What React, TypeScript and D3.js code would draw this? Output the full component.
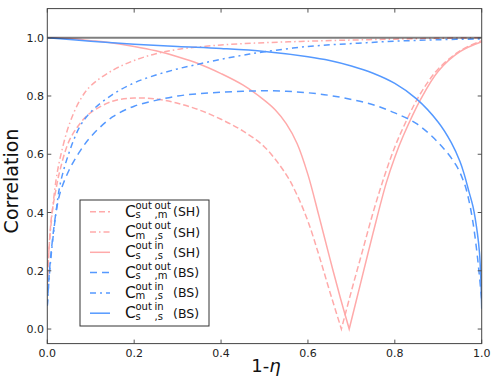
import React from "react";
import * as d3 from "d3";

// ---------- data ----------
const xTicks = [0, 0.2, 0.4, 0.6, 0.8, 1.0];
const yTicks = [0, 0.2, 0.4, 0.6, 0.8, 1.0];

const shDashX = [0, 0.005, 0.01, 0.02, 0.03, 0.05, 0.075, 0.1, 0.15, 0.2, 0.25, 0.3, 0.35, 0.4, 0.45, 0.5, 0.55, 0.575, 0.6, 0.625, 0.65, 0.677, 0.7, 0.725, 0.75, 0.775, 0.8, 0.825, 0.85, 0.875, 0.9, 0.95, 1.0];
const shDashY = [0.15, 0.3, 0.39, 0.48, 0.55, 0.645, 0.705, 0.743, 0.782, 0.793, 0.79, 0.775, 0.752, 0.72, 0.68, 0.625, 0.53, 0.46, 0.37, 0.255, 0.13, 0.0, 0.13, 0.265, 0.4, 0.52, 0.625, 0.71, 0.785, 0.845, 0.893, 0.955, 0.99];

const shDotX = [0, 0.005, 0.01, 0.02, 0.03, 0.05, 0.075, 0.1, 0.15, 0.2, 0.25, 0.3, 0.4, 0.5, 0.6, 0.7, 0.8, 0.9, 1.0];
const shDotY = [0.17, 0.3, 0.38, 0.51, 0.59, 0.7, 0.785, 0.835, 0.888, 0.922, 0.945, 0.96, 0.975, 0.983, 0.988, 0.992, 0.995, 0.998, 1.0];

const shSolidX = [0, 0.05, 0.1, 0.15, 0.2, 0.25, 0.3, 0.35, 0.4, 0.45, 0.5, 0.525, 0.55, 0.575, 0.6, 0.625, 0.65, 0.675, 0.695, 0.72, 0.75, 0.78, 0.8, 0.82, 0.86, 0.9, 0.95, 1.0];
const shSolidY = [1.0, 0.997, 0.99, 0.982, 0.97, 0.955, 0.935, 0.91, 0.877, 0.838, 0.785, 0.752, 0.705, 0.637, 0.53, 0.39, 0.245, 0.105, 0.0, 0.15, 0.33, 0.5, 0.59, 0.665, 0.79, 0.885, 0.952, 0.986];

const bsDashX = [0, 0.005, 0.01, 0.02, 0.03, 0.05, 0.075, 0.1, 0.15, 0.2, 0.25, 0.3, 0.35, 0.4, 0.45, 0.5, 0.55, 0.6, 0.65, 0.7, 0.75, 0.8, 0.85, 0.9, 0.94, 0.96, 0.97, 0.98, 0.99, 1.0];
const bsDashY = [0.08, 0.2, 0.28, 0.4, 0.47, 0.545, 0.61, 0.66, 0.728, 0.765, 0.785, 0.8, 0.808, 0.813, 0.816, 0.818, 0.816, 0.811, 0.802, 0.788, 0.77, 0.742, 0.705, 0.64, 0.565, 0.5, 0.445, 0.365, 0.25, 0.1];

const bsDotX = [0, 0.005, 0.01, 0.02, 0.03, 0.05, 0.075, 0.1, 0.15, 0.2, 0.25, 0.3, 0.35, 0.4, 0.45, 0.5, 0.6, 0.7, 0.8, 0.9, 1.0];
const bsDotY = [0.08, 0.19, 0.27, 0.4, 0.5, 0.605, 0.695, 0.745, 0.805, 0.845, 0.872, 0.893, 0.91, 0.926, 0.94, 0.952, 0.97, 0.98, 0.988, 0.993, 0.996];

const bsSolidX = [0, 0.1, 0.2, 0.3, 0.4, 0.5, 0.6, 0.65, 0.7, 0.75, 0.8, 0.85, 0.9, 0.93, 0.95, 0.96, 0.97, 0.98, 0.99, 0.995, 0.998, 1.0];
const bsSolidY = [1.0, 0.988, 0.978, 0.97, 0.963, 0.953, 0.935, 0.922, 0.903, 0.878, 0.843, 0.79, 0.71, 0.64, 0.575, 0.53, 0.475, 0.42, 0.33, 0.26, 0.17, 0.07];

const legendSub1 = ["s", "m", "s", "s", "m", "s"];
const legendSup2 = ["out", "out", "in", "out", "in", "in"];
const legendSub2 = [",m", ",s", ",s", ",m", ",s", ",s"];
const legendTag = ["(SH)", "(SH)", "(SH)", "(BS)", "(BS)", "(BS)"];

const PINK = "#ffaaaa";
const BLUE = "#5599ff";

const series = [
  { xs: shDashX, ys: shDashY, color: PINK, dash: "6,3", cusp: true },
  { xs: shDotX, ys: shDotY, color: PINK, dash: "6,3,1.5,3", cusp: false },
  { xs: shSolidX, ys: shSolidY, color: PINK, dash: null, cusp: true },
  { xs: bsDashX, ys: bsDashY, color: BLUE, dash: "7,5", cusp: false },
  { xs: bsDotX, ys: bsDotY, color: BLUE, dash: "6,4,2,4", cusp: false },
  { xs: bsSolidX, ys: bsSolidY, color: BLUE, dash: null, cusp: false },
];

const W = 498, H = 384;
const x = d3.scaleLinear().domain([0, 1]).range([47.3, 481.7]);
const y = d3.scaleLinear().domain([-0.05, 1.1]).range([343.6, 8.6]);

function makePath(xs: number[], ys: number[], cusp: boolean): string {
  const pts: [number, number][] = xs.map((v, i) => [v, ys[i]]);
  const line = d3
    .line<[number, number]>()
    .x((d) => x(d[0]))
    .y((d) => y(d[1]))
    .curve(d3.curveCatmullRom.alpha(0.5));
  if (!cusp) return line(pts) || "";
  let mi = 0;
  for (let i = 1; i < pts.length - 1; i++) if (pts[i][1] < pts[mi][1]) mi = i;
  const a = line(pts.slice(0, mi + 1)) || "";
  const b = (line(pts.slice(mi)) || "").replace(/^M/, "L");
  return a + b;
}

export default function App() {
  const x0 = x(0), x1 = x(1), y0 = y(-0.05), y1 = y(1.1);
  const font = "DejaVu Sans, sans-serif";
  const legX = 80, legY = 200, legW = 129, legH = 126;
  return (
    <svg width={W} height={H} style={{ position: "absolute", left: 0, top: 0, background: "#fff" }} fontFamily={font}>
      <rect x={0} y={0} width={W} height={H} fill="#fff" />
      <defs>
        <clipPath id="plotclip">
          <rect x={x0} y={y1} width={x1 - x0} height={y0 - y1} />
        </clipPath>
      </defs>
      <g clipPath="url(#plotclip)">
        {series.map((s, i) => (
          <path key={i} d={makePath(s.xs, s.ys, s.cusp)} fill="none" stroke={s.color} strokeWidth={1.5} strokeDasharray={s.dash || undefined} />
        ))}
        <line x1={x0} x2={x1} y1={y(1)} y2={y(1)} stroke="#000" strokeOpacity={0.5} strokeWidth={2} />
      </g>
      {/* ticks */}
      {xTicks.map((t) => (
        <g key={"xt" + t}>
          <line x1={x(t)} x2={x(t)} y1={y0} y2={y0 - 4} stroke="#555" />
          <line x1={x(t)} x2={x(t)} y1={y1} y2={y1 + 4} stroke="#555" />
          <text x={x(t)} y={357} fontSize={11} textAnchor="middle" fill="#222">{t.toFixed(1)}</text>
        </g>
      ))}
      {yTicks.map((t) => (
        <g key={"yt" + t}>
          <line x1={x0} x2={x0 + 4} y1={y(t)} y2={y(t)} stroke="#555" />
          <line x1={x1} x2={x1 - 4} y1={y(t)} y2={y(t)} stroke="#555" />
          <text x={44} y={y(t) + 4} fontSize={11} textAnchor="end" fill="#222">{t.toFixed(1)}</text>
        </g>
      ))}
      <rect x={x0} y={y1} width={x1 - x0} height={y0 - y1} fill="none" stroke="#444" strokeWidth={1} />
      {/* axis labels */}
      <text transform="translate(18,181) rotate(-90)" fontSize={19} textAnchor="middle" fill="#111">Correlation</text>
      <text x={266} y={372} fontSize={18} textAnchor="middle" fill="#111">
        1-<tspan fontStyle="italic">η</tspan>
      </text>
      {/* legend */}
      <rect x={legX} y={legY} width={legW} height={legH} fill="#fff" stroke="#333" strokeWidth={1} />
      {series.map((s, i) => {
        const yc = 211.7 + i * 20.3;
        return (
          <g key={"lg" + i}>
            <line x1={90} x2={110} y1={yc} y2={yc} stroke={s.color} strokeWidth={1.5} strokeDasharray={s.dash || undefined} />
            <text fill="#111">
              <tspan x={125} y={yc + 5} fontSize={15.5}>C</tspan>
              <tspan x={135.5} y={yc - 3} fontSize={10}>out</tspan>
              <tspan x={135.5} y={yc + 6.5} fontSize={10}>{legendSub1[i]}</tspan>
              <tspan x={154.5} y={yc - 3} fontSize={10}>{legendSup2[i]}</tspan>
              <tspan x={154.5} y={yc + 6.5} fontSize={10}>{legendSub2[i]}</tspan>
              <tspan x={173} y={yc + 4.5} fontSize={12.5}>{legendTag[i]}</tspan>
            </text>
          </g>
        );
      })}
    </svg>
  );
}
